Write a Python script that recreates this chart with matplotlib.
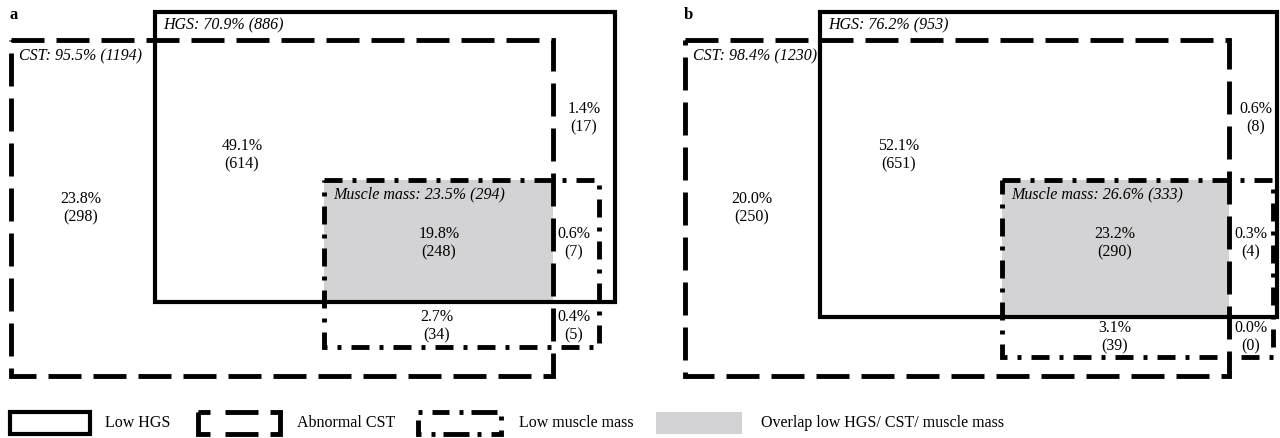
import matplotlib.pyplot as plt
from matplotlib.patches import Rectangle

plt.rcParams['font.family'] = ['Liberation Serif', 'DejaVu Serif']
plt.rcParams['lines.scale_dashes'] = False

# values shown in each panel
panel_names = ['a', 'b']
hgs_labels = ['HGS: 70.9% (886)', 'HGS: 76.2% (953)']
cst_labels = ['CST: 95.5% (1194)', 'CST: 98.4% (1230)']
mm_labels = ['Muscle mass: 23.5% (294)', 'Muscle mass: 26.6% (333)']
cst_only = ['23.8%\n(298)', '20.0%\n(250)']
hgs_cst = ['49.1%\n(614)', '52.1%\n(651)']
hgs_only = ['1.4%\n(17)', '0.6%\n(8)']
all_three = ['19.8%\n(248)', '23.2%\n(290)']
hgs_mm = ['0.6%\n(7)', '0.3%\n(4)']
cst_mm = ['2.7%\n(34)', '3.1%\n(39)']
mm_only = ['0.4%\n(5)', '0.0%\n(0)']

legend_labels = ['Low HGS', 'Abnormal CST', 'Low muscle mass', 'Overlap low HGS/ CST/ muscle mass']

# box geometry in pixels (left, top, right, bottom), per panel
hgs_box = [(155, 12, 615, 302), (820, 12, 1277, 317)]
cst_box = [(11, 40, 553, 376), (685, 40, 1229, 376)]
mm_box = [(324, 180, 599, 347), (1002, 180, 1273, 357)]

# where the region labels sit (x centre, y of first line)
pos_cst_only = [(81, 200), (752, 200)]
pos_hgs_cst = [(242, 147), (899, 147)]
pos_hgs_only = [(584, 110), (1256, 110)]
pos_all_three = [(439, 235), (1115, 235)]
pos_hgs_mm = [(574, 235), (1251, 235)]
pos_cst_mm = [(437, 318), (1115, 329)]
pos_mm_only = [(574, 318), (1251, 329)]

grey = '#d3d3d5'
px = 0.72  # points per pixel at 100 dpi
lw_solid = 3.0
lw_dash = 3.5
dash_cst = (0, (33 * px, 12 * px))
dash_mm = (0, (18 * px, 10 * px, 4 * px, 10 * px))

fig = plt.figure(figsize=(12.8, 4.38), dpi=100)
ax = fig.add_axes([0, 0, 1, 1])
ax.set_xlim(0, 1280)
ax.set_ylim(438, 0)
ax.axis('off')


def rect(ax, box, **kw):
    l, t, r, b = box
    ax.add_patch(Rectangle((l, t), r - l, b - t, **kw))


fs = 11.5
for i in range(2):
    hl, ht, hr, hb = hgs_box[i]
    cl, ct, cr, cb = cst_box[i]
    ml, mt, mr, mb = mm_box[i]

    # overlap of all three
    rect(ax, (ml, mt, min(hr, cr), min(hb, cb)), facecolor=grey, edgecolor='none', zorder=1)

    rect(ax, hgs_box[i], fill=False, edgecolor='black', lw=lw_solid, zorder=3)
    rect(ax, cst_box[i], fill=False, edgecolor='black', lw=lw_dash, linestyle=dash_cst, zorder=3)
    rect(ax, mm_box[i], fill=False, edgecolor='black', lw=lw_dash, linestyle=dash_mm, zorder=3)

    ax.text(cl - 1, 15, panel_names[i], fontsize=12, fontweight='bold', va='center', ha='left')
    ax.text(hl + 8, 25, hgs_labels[i], fontsize=fs, style='italic', va='center', ha='left')
    ax.text(cl + 8, 56, cst_labels[i], fontsize=fs, style='italic', va='center', ha='left')
    ax.text(ml + 9, 194, mm_labels[i], fontsize=fs, style='italic', va='center', ha='left')

    ctr = dict(fontsize=fs, ha='center', va='top', linespacing=1.2)
    for labels, pos in [(cst_only, pos_cst_only), (hgs_cst, pos_hgs_cst),
                        (hgs_only, pos_hgs_only), (all_three, pos_all_three),
                        (hgs_mm, pos_hgs_mm), (cst_mm, pos_cst_mm),
                        (mm_only, pos_mm_only)]:
        x, y = pos[i]
        ax.text(x, y - 9, labels[i], **ctr)

# legend
ly0, ly1 = 412, 434
rect(ax, (10, ly0, 90, ly1), fill=False, edgecolor='black', lw=lw_solid)
leg_cst = (0, tuple(v * px for v in (12, 15, 33, 12, 42, 12, 33, 15, 34)))
rect(ax, (198, ly0, 280, ly1), fill=False, edgecolor='black', lw=lw_dash, linestyle=leg_cst)
leg_mm = (0, tuple(v * px for v in (4, 10, 17, 10, 4, 8, 26, 8, 4, 10, 14, 10, 4, 8, 26, 8)))
rect(ax, (418, ly0, 501, ly1), fill=False, edgecolor='black', lw=lw_dash, linestyle=leg_mm)
rect(ax, (656, ly0, 742, ly1), facecolor=grey, edgecolor='none')
lx = [105, 297, 519, 761]
for x, s in zip(lx, legend_labels):
    ax.text(x, 423, s, fontsize=fs, ha='left', va='center')

fig.savefig('out.png', dpi=100)
